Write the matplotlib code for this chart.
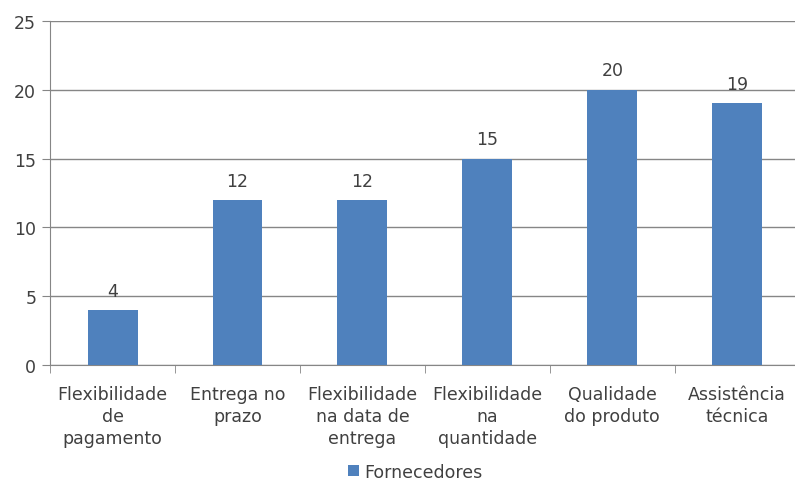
import matplotlib.pyplot as plt
import numpy as np

categorias = ["Flexibilidade\nde\npagamento", "Entrega no\nprazo", "Flexibilidade\nna data de\nentrega",
              "Flexibilidade\nna\nquantidade", "Qualidade\ndo produto", "Assistência\ntécnica"]
fornecedores = [4, 12, 12, 15, 20, 19]

plt.rcParams["font.family"] = ["DejaVu Sans"]
cor_texto = "#404040"
cor_grade = "#868686"

fig = plt.figure(figsize=(7.95, 4.85), dpi=100)
ax = fig.add_axes([0.063, 0.245, 0.943, 0.71])

x = np.arange(len(categorias))
barras = ax.bar(x, fornecedores, width=0.4, color="#4F81BD", label="Fornecedores", zorder=3)
for b, v in zip(barras, fornecedores):
    ax.text(b.get_x() + b.get_width() / 2, v + 0.75, str(v), ha="center", va="bottom",
            fontsize=12.5, color=cor_texto)

ax.set_xlim(-0.5, len(categorias) - 0.5)
ax.set_ylim(0, 25)
ax.set_yticks(range(0, 26, 5))
ax.yaxis.grid(True, color=cor_grade, linewidth=1, zorder=0)
ax.tick_params(axis="y", length=6, color=cor_grade, labelsize=12.5, labelcolor=cor_texto, pad=4)

# categorias no centro, marcas entre elas
ax.set_xticks(x)
ax.set_xticklabels(categorias, fontsize=12.5, color=cor_texto, linespacing=1.3)
ax.tick_params(axis="x", length=0, pad=14)
ax.set_xticks(np.arange(-0.5, len(categorias)), minor=True)
ax.tick_params(axis="x", which="minor", length=6, color=cor_grade)

for lado in ["top", "right"]:
    ax.spines[lado].set_visible(False)
ax.spines["left"].set_color(cor_grade)
ax.spines["bottom"].set_color(cor_grade)

ax.legend(loc="center", bbox_to_anchor=(0.487, -0.31), frameon=False, fontsize=12.5,
          handlelength=0.6, handleheight=0.6, handletextpad=0.3, labelcolor=cor_texto)

fig.savefig("out.png", dpi=100)
